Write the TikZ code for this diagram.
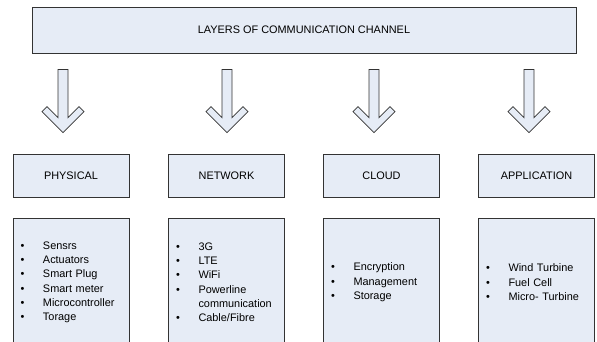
\documentclass[tikz,border=0pt]{standalone}
\usepackage{fontspec}
\setmainfont{Liberation Sans}
\usetikzlibrary{positioning, calc}
\definecolor{layerFill}{HTML}{E6ECF6}
\definecolor{layerLine}{HTML}{333333}

\newcommand{\bitem}[1]{\makebox[22.5pt][l]{\textbullet}#1}

\begin{document}
\begin{tikzpicture}[
    x=1pt, y=-1pt,
    node distance=21pt,
    layerbox/.style={rectangle, draw=layerLine, line width=0.8pt, fill=layerFill,
                 font=\fontsize{10.9}{14.3}\selectfont, inner sep=0pt},
    title/.style={layerbox, minimum width=544pt, minimum height=46pt},
    tag/.style={layerbox, minimum width=116pt, minimum height=43pt},
    listbox/.style={layerbox, minimum width=116pt, minimum height=127pt,
                 text width=101pt, inner xsep=7.5pt, align=left},
    blockarr/.style={draw=layerLine, line width=0.8pt, fill=layerFill, line join=miter},
  ]
    \useasboundingbox (0,0) rectangle (597,342);
    \clip (0,0) rectangle (597,342);

    \node[title] (top) at (304,30) {LAYERS OF COMMUNICATION CHANNEL};

    \node[tag] (phys)  at (71,175.5)    {PHYSICAL};
    \node[tag] (net)   at (226.5,175.5) {NETWORK};
    \node[tag] (cloud) at (381.5,175.5) {CLOUD};
    \node[tag] (app)   at (536.5,175.5) {APPLICATION};

    \node[listbox, below=of phys] (physl) {%
      \bitem{Sensrs}\\ \bitem{Actuators}\\ \bitem{Smart Plug}\\
      \bitem{Smart meter}\\ \bitem{Microcontroller}\\ \bitem{Torage}};
    \node[listbox, below=of net] (netl) {%
      \bitem{3G}\\ \bitem{LTE}\\ \bitem{WiFi}\\ \bitem{Powerline}\\
      \hspace*{22.5pt}communication\\ \bitem{Cable/Fibre}};
    \node[listbox, below=of cloud] (cloudl) {%
      \bitem{Encryption}\\ \bitem{Management}\\ \bitem{Storage}};
    \node[listbox, below=of app] (appl) {%
      \bitem{Wind Turbine}\\ \bitem{Fuel Cell}\\ \bitem{Micro- Turbine}};

    % block arrows from the title down to each layer
    \foreach \n/\dx in {phys/-8, net/0.5, cloud/-7.5, app/-7.5} {
      \draw[blockarr] ($(\n.north)+(\dx,-21)$) -- ++(-21,-21) -- ++(5,-5)
        -- ++(11,11) -- ++(0,-48) -- ++(10,0) -- ++(0,48) -- ++(11,-11)
        -- ++(5,5) -- cycle;
    }
  \end{tikzpicture}
\end{document}
